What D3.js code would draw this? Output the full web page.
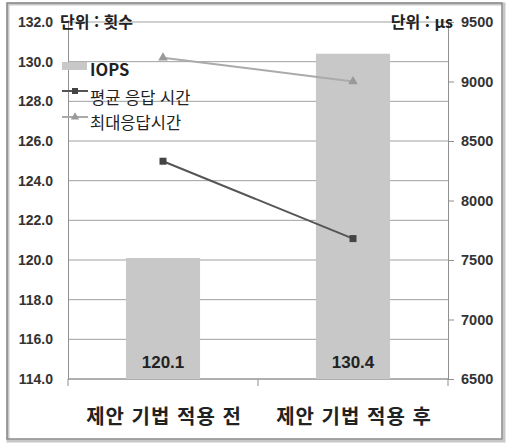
<!DOCTYPE html>
<html lang="ko">
<head>
<meta charset="UTF-8">
<title>IOPS 및 응답 시간</title>
<style>
  body { margin: 0; background: #fff; }
  svg { display: block; font-family: "Noto Sans CJK KR", "Noto Sans", sans-serif; }
</style>
</head>
<body>
<div id="chart"></div>
<script src="https://d3js.org/d3.v7.min.js"></script>
<script>
// 데이터
const categories = ["제안 기법 적용 전", "제안 기법 적용 후"];
const iops = [120.1, 130.4];
const avgResp = [8330, 7680];
const maxResp = [9200, 9000];
const leftTicks = [114, 116, 118, 120, 122, 124, 126, 128, 130, 132];
const rightTicks = [6500, 7000, 7500, 8000, 8500, 9000, 9500];
const seriesNames = ["IOPS", "평균 응답 시간", "최대응답시간"];

const W = 512, H = 444;
const margin = { top: 22, right: 64, bottom: 65, left: 68 };
const width = W - margin.left - margin.right;
const height = H - margin.top - margin.bottom;

const svg = d3.select("#chart").append("svg")
  .attr("width", W).attr("height", H);

// 바깥 테두리
svg.append("rect")
  .attr("x", 8).attr("y", 4).attr("width", 496).attr("height", 437)
  .attr("fill", "none").attr("stroke", "#c8c8c8").attr("stroke-width", 3);
svg.append("rect")
  .attr("x", 7).attr("y", 3).attr("width", 495).attr("height", 436)
  .attr("fill", "none").attr("stroke", "#888").attr("stroke-width", 1.5);

const g = svg.append("g").attr("transform", `translate(${margin.left},${margin.top})`);

const x = d3.scaleBand().domain(categories).range([0, width]).paddingInner(0.61).paddingOuter(0.305);
const xc = d3.scalePoint().domain(categories).range([0, width]).padding(0.5);
const yL = d3.scaleLinear().domain([114, 132]).range([height, 0]);
const yR = d3.scaleLinear().domain([6500, 9500]).range([height, 0]);

// 격자선
g.append("g").selectAll("line").data(leftTicks).join("line")
  .attr("x1", 0).attr("x2", width)
  .attr("y1", d => yL(d)).attr("y2", d => yL(d))
  .attr("stroke", "#a0a0a0").attr("stroke-width", 1);

// 왼쪽 축
const axL = g.append("g")
  .call(d3.axisLeft(yL).tickValues(leftTicks).tickFormat(d3.format(".1f")).tickSize(0).tickPadding(15));
axL.select(".domain").attr("stroke", "#909090");
axL.selectAll("text").attr("fill", "#333").style("font-size", "14px").style("font-weight", "bold")
  .style("font-family", "'Liberation Sans', sans-serif");

// 오른쪽 축
const axR = g.append("g").attr("transform", `translate(${width},0)`)
  .call(d3.axisRight(yR).tickValues(rightTicks).tickFormat(d3.format("d")).tickSize(6).tickPadding(7));
axR.select(".domain").attr("stroke", "#909090");
axR.selectAll(".tick line").attr("stroke", "#909090");
axR.selectAll("text").attr("fill", "#333").style("font-size", "14.5px").style("font-weight", "bold")
  .style("font-family", "'Liberation Sans', sans-serif");

// 아래 축
const axB = g.append("g").attr("transform", `translate(0,${height})`);
axB.append("line").attr("x1", 0).attr("x2", width).attr("stroke", "#909090");
axB.selectAll("line.tk").data([0, 1, 2]).join("line").attr("class", "tk")
  .attr("x1", d => d * width / 2).attr("x2", d => d * width / 2)
  .attr("y1", 0).attr("y2", 7).attr("stroke", "#909090");
axB.selectAll("text").data(categories).join("text")
  .attr("x", d => xc(d) + 1).attr("y", 45)
  .attr("text-anchor", "middle").attr("fill", "#222")
  .style("font-size", "20px").style("font-weight", "bold").style("letter-spacing", "1px")
  .text(d => d);

// 막대
g.selectAll(".bar").data(categories).join("rect")
  .attr("class", "bar")
  .attr("x", d => x(d)).attr("width", x.bandwidth())
  .attr("y", (d, i) => yL(iops[i]))
  .attr("height", (d, i) => height - yL(iops[i]))
  .attr("fill", "#c8c8c8");

g.selectAll(".barlabel").data(categories).join("text")
  .attr("class", "barlabel")
  .attr("x", d => xc(d)).attr("y", height - 11)
  .attr("text-anchor", "middle").attr("fill", "#222")
  .style("font-size", "17px").style("font-weight", "bold")
  .style("font-family", "'Liberation Sans', sans-serif")
  .text((d, i) => iops[i].toFixed(1));

// 선
const line = d3.line().x(d => xc(d.c)).y(d => yR(d.v));
const avgData = categories.map((c, i) => ({ c, v: avgResp[i] }));
const maxData = categories.map((c, i) => ({ c, v: maxResp[i] }));

g.append("path").datum(avgData).attr("d", line)
  .attr("fill", "none").attr("stroke", "#555").attr("stroke-width", 2);
g.selectAll(".sq").data(avgData).join("rect").attr("class", "sq")
  .attr("x", d => xc(d.c) - 3.5).attr("y", d => yR(d.v) - 3.5)
  .attr("width", 7).attr("height", 7).attr("fill", "#444");

g.append("path").datum(maxData).attr("d", line)
  .attr("fill", "none").attr("stroke", "#aaa").attr("stroke-width", 2);
g.selectAll(".tri").data(maxData).join("path").attr("class", "tri")
  .attr("transform", d => `translate(${xc(d.c)},${yR(d.v)})`)
  .attr("d", d3.symbol(d3.symbolTriangle, 40))
  .attr("fill", "#999");

// 단위 표시
svg.append("text").attr("x", 60).attr("y", 28).attr("fill", "#222")
  .style("font-size", "16px").style("font-weight", "bold").text("단위 : 횟수");
svg.append("text").attr("x", 453).attr("y", 28).attr("text-anchor", "end").attr("fill", "#222")
  .style("font-size", "16px").style("font-weight", "bold").text("단위 : µs");

// 범례
const lg = svg.append("g").attr("transform", "translate(62,0)");
lg.append("rect").attr("x", 0).attr("y", 62).attr("width", 25).attr("height", 8).attr("fill", "#c8c8c8");
lg.append("line").attr("x1", 0).attr("x2", 26).attr("y1", 91).attr("y2", 91).attr("stroke", "#555").attr("stroke-width", 2);
lg.append("rect").attr("x", 10).attr("y", 88).attr("width", 6).attr("height", 6).attr("fill", "#444");
lg.append("line").attr("x1", 0).attr("x2", 26).attr("y1", 117).attr("y2", 117).attr("stroke", "#aaa").attr("stroke-width", 2);
lg.append("path").attr("transform", "translate(13,117)").attr("d", d3.symbol(d3.symbolTriangle, 30)).attr("fill", "#999");
lg.selectAll(".lgt").data(seriesNames).join("text").attr("class", "lgt")
  .attr("x", 28).attr("y", (d, i) => [76, 104, 129][i]).attr("fill", "#222")
  .style("font-size", "16.5px").style("font-weight", (d, i) => i === 0 ? "bold" : "normal")
  .text(d => d);
</script>
</body>
</html>
